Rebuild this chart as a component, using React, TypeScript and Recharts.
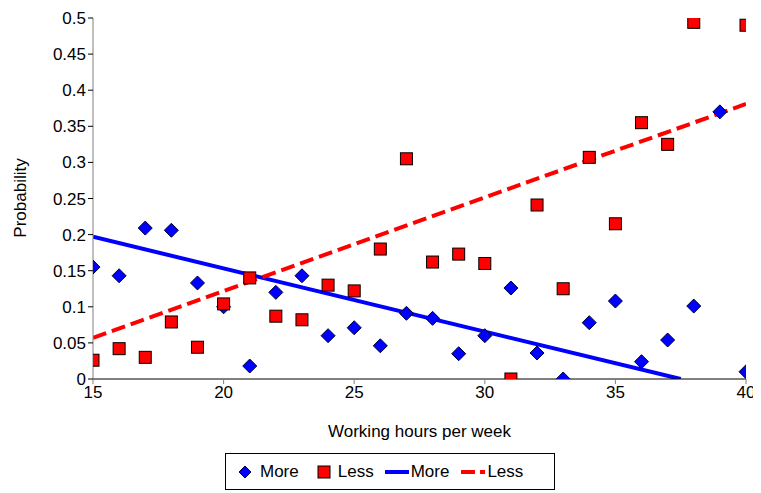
import React from "react";
import { ComposedChart, Scatter, Line, XAxis, YAxis } from "recharts";

const hours = [15, 16, 17, 18, 19, 20, 21, 22, 23, 24, 25, 26, 27, 28, 29, 30, 31, 32, 33, 34, 35, 36, 37, 38, 39, 40];
const moreValues = [0.155, 0.143, 0.209, 0.206, 0.133, 0.1, 0.018, 0.12, 0.143, 0.06, 0.071, 0.046, 0.091, 0.084, 0.035, 0.06, 0.126, 0.036, 0.0, 0.078, 0.108, 0.024, 0.054, 0.101, 0.37, 0.01];
const lessHours = [15, 16, 17, 18, 19, 20, 21, 22, 23, 24, 25, 26, 27, 28, 29, 30, 31, 32, 33, 34, 35, 36, 37, 38, 40];
const lessValues = [0.026, 0.042, 0.03, 0.079, 0.044, 0.104, 0.14, 0.087, 0.082, 0.13, 0.122, 0.18, 0.305, 0.162, 0.173, 0.16, 0.0, 0.241, 0.125, 0.307, 0.215, 0.355, 0.325, 0.494, 0.49];
const moreTrendX = [15, 37.5];
const moreTrendY = [0.197, 0.0];
const lessTrendX = [15, 40];
const lessTrendY = [0.057, 0.381];
const xTicks = [15, 20, 25, 30, 35, 40];
const yTicks = [0, 0.05, 0.1, 0.15, 0.2, 0.25, 0.3, 0.35, 0.4, 0.45, 0.5];

const moreData = hours.map((x, i) => ({ x, y: moreValues[i] }));
const lessData = lessHours.map((x, i) => ({ x, y: lessValues[i] }));
const moreTrend = moreTrendX.map((x, i) => ({ x, y: moreTrendY[i] }));
const lessTrend = lessTrendX.map((x, i) => ({ x, y: lessTrendY[i] }));

const FONT = "'Liberation Sans', Arial, sans-serif";

const Diamond = (props: any) => {
  const { cx, cy } = props;
  if (cx == null || cy == null) return null;
  const r = 7;
  return (
    <polygon
      points={`${cx},${cy - r} ${cx + r},${cy} ${cx},${cy + r} ${cx - r},${cy}`}
      fill="#0000FF"
      stroke="#000033"
      strokeWidth={1}
    />
  );
};

const Square = (props: any) => {
  const { cx, cy } = props;
  if (cx == null || cy == null) return null;
  const r = 6;
  return <rect x={cx - r} y={cy - r} width={2 * r} height={2 * r} fill="#FF0000" stroke="#000000" strokeWidth={1} />;
};

const LegendBox = () => (
  <div
    style={{
      position: "absolute",
      left: 217,
      top: 445,
      width: 330,
      height: 37,
      border: "1px solid #000",
      boxSizing: "border-box",
      display: "flex",
      alignItems: "center",
      fontFamily: FONT,
      fontSize: 17,
      color: "#000",
      background: "#fff",
    }}
  >
    <svg width={16} height={16} style={{ marginLeft: 11 }}>
      <polygon points="8,2 14,8 8,14 2,8" fill="#0000FF" stroke="#000033" strokeWidth={1} />
    </svg>
    <span style={{ marginLeft: 7 }}>More</span>
    <svg width={14} height={14} style={{ marginLeft: 18 }}>
      <rect x={1} y={1} width={12} height={12} fill="#FF0000" stroke="#000" strokeWidth={1} />
    </svg>
    <span style={{ marginLeft: 7 }}>Less</span>
    <svg width={24} height={10} style={{ marginLeft: 11 }}>
      <line x1={0} y1={5} x2={24} y2={5} stroke="#0000FF" strokeWidth={4} />
    </svg>
    <span style={{ marginLeft: 2 }}>More</span>
    <svg width={24} height={10} style={{ marginLeft: 12 }}>
      <line x1={0} y1={5} x2={24} y2={5} stroke="#FF0000" strokeWidth={4} strokeDasharray="14 5" />
    </svg>
    <span style={{ marginLeft: 2 }}>Less</span>
  </div>
);

const YLabel = () => (
  <text x={12} y={190} transform="rotate(-90 12 190)" textAnchor="middle" dominantBaseline="central" fill="#000" fontSize={17} fontFamily={FONT}>
    Probability
  </text>
);

const XLabel = () => (
  <text x={411.5} y={423} textAnchor="middle" dominantBaseline="central" fill="#000" fontSize={17} fontFamily={FONT}>
    Working hours per week
  </text>
);

export default function App() {
  return (
    <div style={{ width: 753, height: 485, position: "relative" }}>
      <ComposedChart width={753} height={485} margin={{ top: 10, right: 15, bottom: 54, left: 0 }}>
        <XAxis
          type="number"
          dataKey="x"
          domain={[15, 40]}
          ticks={xTicks}
          allowDataOverflow
          stroke="#000"
          tickLine={{ stroke: "#808080" }}
          tick={{ fill: "#000", fontSize: 17, fontFamily: FONT }}
          tickSize={5}
          height={60}
          label={<XLabel />}
        />
        <YAxis
          type="number"
          dataKey="y"
          domain={[0, 0.5]}
          ticks={yTicks}
          allowDataOverflow
          width={85}
          stroke="#808080"
          tickLine={{ stroke: "#000" }}
          tick={{ fill: "#000", fontSize: 17, fontFamily: FONT }}
          tickSize={5}
          label={<YLabel />}
        />
        <Line data={moreTrend} dataKey="y" type="linear" stroke="#0000FF" strokeWidth={4} dot={false} activeDot={false} isAnimationActive={false} />
        <Line data={lessTrend} dataKey="y" type="linear" stroke="#FF0000" strokeWidth={4} strokeDasharray="14 6" dot={false} activeDot={false} isAnimationActive={false} />
        <Scatter data={moreData} dataKey="y" shape={<Diamond />} isAnimationActive={false} />
        <Scatter data={lessData} dataKey="y" shape={<Square />} isAnimationActive={false} />
      </ComposedChart>
      <LegendBox />
    </div>
  );
}
